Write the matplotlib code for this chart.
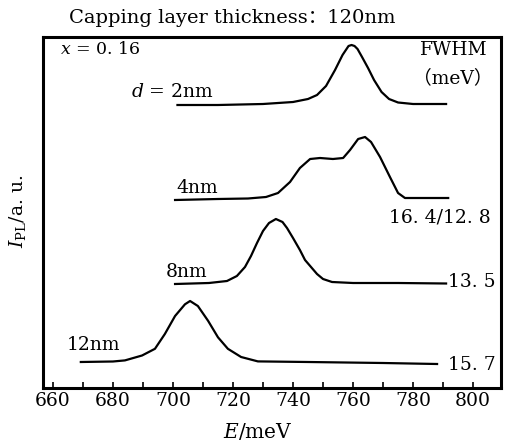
import matplotlib
matplotlib.use("Agg")
import matplotlib.pyplot as plt
from matplotlib.ticker import MultipleLocator

plt.rcParams['font.family'] = ['DejaVu Serif', 'Noto Sans CJK SC']
plt.rcParams['mathtext.fontset'] = 'dejavuserif'

# ---- data, E in meV, intensity in a.u. ----
e_2nm = [701.5, 715, 730, 740, 745, 748, 751, 754, 756.5, 758.5, 759.5, 760.5,
         761.5, 763, 765, 767, 769.5, 772, 775, 780, 791]
i_2nm = [28.3, 28.3, 28.4, 28.6, 28.9, 29.3, 30.2, 31.8, 33.3, 34.2, 34.3, 34.2,
         33.9, 33.1, 32.0, 30.8, 29.6, 28.9, 28.55, 28.4, 28.4]

e_4nm = [700.7, 715, 725, 731, 735, 739, 742.3, 745.7, 749, 753.3, 756.7, 759,
         761.7, 764, 766, 769, 772.3, 775, 777.3, 782, 791.7]
i_4nm = [18.8, 18.9, 18.95, 19.1, 19.5, 20.6, 22.0, 22.9, 23.0, 22.9, 23.0, 23.8,
         24.9, 25.1, 24.6, 23.1, 21.1, 19.5, 19.0, 19.0, 19.0]

e_8nm = [700.7, 712, 718, 721.3, 724, 726, 728, 730, 732, 734.3, 736.5, 738,
         740, 742.3, 744, 746, 748, 750, 753, 760, 775, 791]
i_8nm = [10.4, 10.5, 10.7, 11.2, 12.1, 13.2, 14.5, 15.7, 16.5, 16.9, 16.6, 16.0,
         15.0, 13.8, 12.8, 12.1, 11.4, 10.9, 10.6, 10.5, 10.5, 10.45]

e_12nm = [669.3, 680, 684, 689.7, 694, 697.3, 700.7, 704, 705.7, 708.3, 711.7,
          715, 718.3, 722.7, 728.3, 745, 770, 788]
i_12nm = [2.6, 2.65, 2.76, 3.25, 3.92, 5.4, 7.2, 8.37, 8.7, 8.2, 6.72,
          5.07, 3.92, 3.1, 2.66, 2.6, 2.5, 2.4]

curve_labels = ["$d$ = 2nm", "4nm", "8nm", "12nm"]
fwhm_labels = ["16. 4/12. 8", "13. 5", "15. 7"]
x_ticks = [660, 680, 700, 720, 740, 760, 780, 800]

fig = plt.figure(figsize=(5.09, 4.42), dpi=100)
ax = fig.add_axes([43/509, 1 - 388/442, (501 - 43)/509, (388 - 37)/442])

for e, i in [(e_2nm, i_2nm), (e_4nm, i_4nm), (e_8nm, i_8nm), (e_12nm, i_12nm)]:
    ax.plot(e, i, color='black', lw=1.6, solid_joinstyle='round')

ax.set_xlim(656.7, 809.3)
ax.set_ylim(0, 35.1)
ax.set_xticks(x_ticks)
ax.xaxis.set_minor_locator(MultipleLocator(10))
ax.set_yticks([])
ax.tick_params(axis='x', which='both', direction='in', length=4, width=1.2,
               labelsize=13.5, pad=3)
for s in ax.spines.values():
    s.set_linewidth(2.2)

fs = 13.5
# curve labels
ax.text(686.0, 29.6, curve_labels[0], fontsize=fs, ha='left', va='center')
ax.text(701.3, 20.0, curve_labels[1], fontsize=fs, ha='left', va='center')
ax.text(697.5, 11.6, curve_labels[2], fontsize=fs, ha='left', va='center')
ax.text(664.5, 4.3, curve_labels[3], fontsize=fs, ha='left', va='center')

# FWHM annotations
ax.text(806.0, 17.0, fwhm_labels[0], fontsize=fs, ha='right', va='center')
ax.text(807.5, 10.6, fwhm_labels[1], fontsize=fs, ha='right', va='center')
ax.text(807.5, 2.3, fwhm_labels[2], fontsize=fs, ha='right', va='center')
ax.text(805.0, 33.8, "FWHM", fontsize=fs, ha='right', va='center')
ax.text(806.5, 31.0, "（meV）", fontsize=fs, ha='right', va='center')
ax.text(662.5, 33.9, "$x$ = 0. 16", fontsize=12.5, ha='left', va='center')

fig.text(232/509, 1 - 18/442, "Capping layer thickness：120nm", fontsize=14,
         ha='center', va='center')
fig.text(258/509, 1 - 431/442, "$E$/meV", fontsize=14.5, ha='center', va='center')
fig.text(18/509, 1 - 211/442, r"$I_{\mathrm{PL}}$/a. u.", fontsize=13.5,
         ha='center', va='center', rotation=90)

fig.savefig("out.png", dpi=100)
